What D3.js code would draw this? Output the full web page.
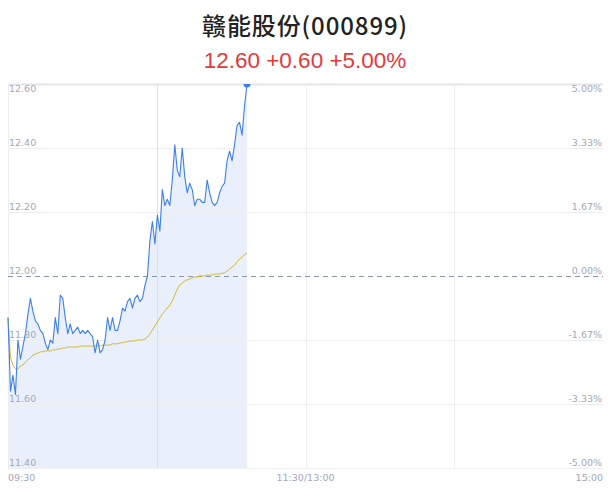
<!DOCTYPE html>
<html>
<head>
<meta charset="utf-8">
<script src="https://cdn.jsdelivr.net/npm/d3@7/dist/d3.min.js"></script>
<style>
  html, body { margin: 0; padding: 0; background: #fff; }
  svg { display: block; }
</style>
</head>
<body>
<svg id="chart" width="611" height="492"></svg>
<script>
const titleText = "赣能股份(000899)";
const subtitleText = "12.60 +0.60 +5.00%";
const prevClose = 12.00;

const prices = [
  11.87, 11.64, 11.69, 11.63, 11.80, 11.74, 11.78, 11.82, 11.88, 11.93,
  11.89, 11.86, 11.85, 11.83, 11.82, 11.79, 11.77, 11.80, 11.79, 11.87,
  11.82, 11.94, 11.93, 11.87, 11.82, 11.85, 11.82, 11.83, 11.84, 11.82,
  11.83, 11.82, 11.83, 11.82, 11.81, 11.76, 11.80, 11.76, 11.77, 11.80,
  11.87, 11.83, 11.87, 11.83, 11.83, 11.86, 11.90, 11.89, 11.92, 11.93,
  11.90, 11.93, 11.94, 11.92, 11.93, 11.97, 12.00, 12.11, 12.17, 12.10,
  12.19, 12.14, 12.27, 12.22, 12.24, 12.22, 12.30, 12.41, 12.33, 12.31,
  12.40, 12.31, 12.26, 12.29, 12.27, 12.22, 12.24, 12.24, 12.23, 12.23,
  12.30, 12.26, 12.23, 12.22, 12.23, 12.26, 12.28, 12.29, 12.36, 12.39,
  12.36, 12.41, 12.47, 12.48, 12.44, 12.53, 12.60
];

const avgPrices = [
  11.869, 11.744, 11.722, 11.709, 11.709, 11.719, 11.722, 11.731, 11.738, 11.744,
  11.753, 11.756, 11.759, 11.763, 11.763, 11.766, 11.766, 11.766, 11.769, 11.769,
  11.772, 11.772, 11.775, 11.775, 11.778, 11.778, 11.778, 11.778, 11.778, 11.781,
  11.781, 11.781, 11.781, 11.781, 11.781, 11.781, 11.781, 11.781, 11.784, 11.784,
  11.784, 11.784, 11.788, 11.788, 11.788, 11.791, 11.791, 11.794, 11.794, 11.797,
  11.797, 11.797, 11.800, 11.800, 11.800, 11.803, 11.809, 11.819, 11.831, 11.844,
  11.856, 11.869, 11.881, 11.891, 11.900, 11.909, 11.922, 11.941, 11.959, 11.972,
  11.978, 11.984, 11.988, 11.991, 11.994, 11.997, 11.997, 12.000, 12.000, 12.000,
  12.003, 12.003, 12.003, 12.006, 12.006, 12.006, 12.009, 12.009, 12.016, 12.022,
  12.028, 12.034, 12.044, 12.053, 12.059, 12.066, 12.072
];

const priceTicks = [12.60, 12.40, 12.20, 12.00, 11.80, 11.60, 11.40];
const pctTickLabels = ["5.00%", "3.33%", "1.67%", "0.00%", "-1.67%", "-3.33%", "-5.00%"];
const timeTickMinutes = [0, 120, 240];
const timeTickLabels = ["09:30", "11:30/13:00", "15:00"];
const vGridMinutes = [0, 60, 120, 180];

const svg = d3.select("#chart");
const plotLeft = 8, plotRight = 603, plotTop = 84, plotBottom = 468;

const x = d3.scaleLinear().domain([0, 239]).range([plotLeft, plotRight]);
const y = d3.scaleLinear().domain([11.40, 12.60]).range([plotBottom, plotTop]);

const axisColor = "#a3a8b8";
const gridColor = "#eceef2";

svg.append("defs").append("clipPath").attr("id", "plotClip")
  .append("rect").attr("x", plotLeft).attr("y", plotTop)
  .attr("width", plotRight - plotLeft).attr("height", plotBottom - plotTop);

// area fill
const area = d3.area()
  .x((d, i) => x(i))
  .y0(y(11.40))
  .y1(d => y(d));
svg.append("path")
  .datum(prices)
  .attr("d", area)
  .attr("fill", "#e9f0fc");

// horizontal grid
svg.append("g").selectAll("line")
  .data(priceTicks.filter(t => t !== prevClose))
  .join("line")
  .attr("x1", plotLeft).attr("x2", plotRight)
  .attr("y1", d => Math.round(y(d)) + 0.5).attr("y2", d => Math.round(y(d)) + 0.5)
  .attr("stroke", (d, i) => (i === 0) ? "#e3e5ea" : gridColor)
  .attr("stroke-width", (d, i) => (i === 0) ? 2 : 1);

// vertical grid
svg.append("g").selectAll("line")
  .data(vGridMinutes)
  .join("line")
  .attr("x1", d => Math.round(plotLeft + (plotRight - plotLeft) * d / 240) + 0.5)
  .attr("x2", d => Math.round(plotLeft + (plotRight - plotLeft) * d / 240) + 0.5)
  .attr("y1", plotTop).attr("y2", plotBottom)
  .attr("stroke", d => d === 60 ? "#d9e0ec" : gridColor)
  .attr("stroke-width", 1);

// dashed prev close
svg.append("line")
  .attr("x1", plotLeft).attr("x2", plotRight)
  .attr("y1", Math.round(y(prevClose)) + 0.5).attr("y2", Math.round(y(prevClose)) + 0.5)
  .attr("stroke", "#8e96ab").attr("stroke-width", 1)
  .attr("stroke-dasharray", "5,4");

// avg line
const line = d3.line().x((d, i) => x(i)).y(d => y(d));
svg.append("path")
  .datum(avgPrices)
  .attr("d", line)
  .attr("fill", "none")
  .attr("stroke", "#d4b82c")
  .attr("stroke-width", 1);

// price line
svg.append("path")
  .datum(prices)
  .attr("d", line)
  .attr("fill", "none")
  .attr("stroke", "#3d7fea")
  .attr("stroke-width", 1.1)
  .attr("stroke-linejoin", "round");

// end dot
svg.append("g").attr("clip-path", "url(#plotClip)")
  .append("circle")
  .attr("cx", x(prices.length - 1))
  .attr("cy", y(prices[prices.length - 1]))
  .attr("r", 3.5)
  .attr("fill", "#3d7fea");

// left labels
svg.append("g").selectAll("text")
  .data(priceTicks)
  .join("text")
  .attr("x", plotLeft + 1)
  .attr("y", (d, i) => i === 0 ? y(d) + 8 : y(d) - 2)
  .attr("font-family", "'DejaVu Sans', sans-serif")
  .attr("font-size", 9.5)
  .attr("fill", axisColor)
  .text(d => d.toFixed(2));

// right labels
svg.append("g").selectAll("text")
  .data(priceTicks)
  .join("text")
  .attr("x", plotRight - 1)
  .attr("y", (d, i) => i === 0 ? y(d) + 8 : y(d) - 2)
  .attr("text-anchor", "end")
  .attr("font-family", "'DejaVu Sans', sans-serif")
  .attr("font-size", 9.5)
  .attr("fill", axisColor)
  .text((d, i) => pctTickLabels[i]);

// bottom labels
svg.append("g").selectAll("text")
  .data(timeTickMinutes)
  .join("text")
  .attr("x", d => plotLeft + (plotRight - plotLeft) * d / 240)
  .attr("y", 481)
  .attr("text-anchor", (d, i) => i === 0 ? "start" : (i === timeTickMinutes.length - 1 ? "end" : "middle"))
  .attr("font-family", "'DejaVu Sans', sans-serif")
  .attr("font-size", 9.5)
  .attr("fill", axisColor)
  .text((d, i) => timeTickLabels[i]);

// title
svg.append("text")
  .attr("x", 305).attr("y", 35)
  .attr("text-anchor", "middle")
  .attr("font-family", "'Noto Sans CJK SC', sans-serif")
  .attr("font-size", 24)
  .attr("font-weight", 500)
  .attr("letter-spacing", 0.9)
  .attr("fill", "#222")
  .text(titleText);

svg.append("text")
  .attr("x", 305).attr("y", 68)
  .attr("text-anchor", "middle")
  .attr("font-family", "'Liberation Sans', Arial, sans-serif")
  .attr("font-size", 22.5)
  .attr("fill", "#e5383b")
  .text(subtitleText);
</script>
</body>
</html>
